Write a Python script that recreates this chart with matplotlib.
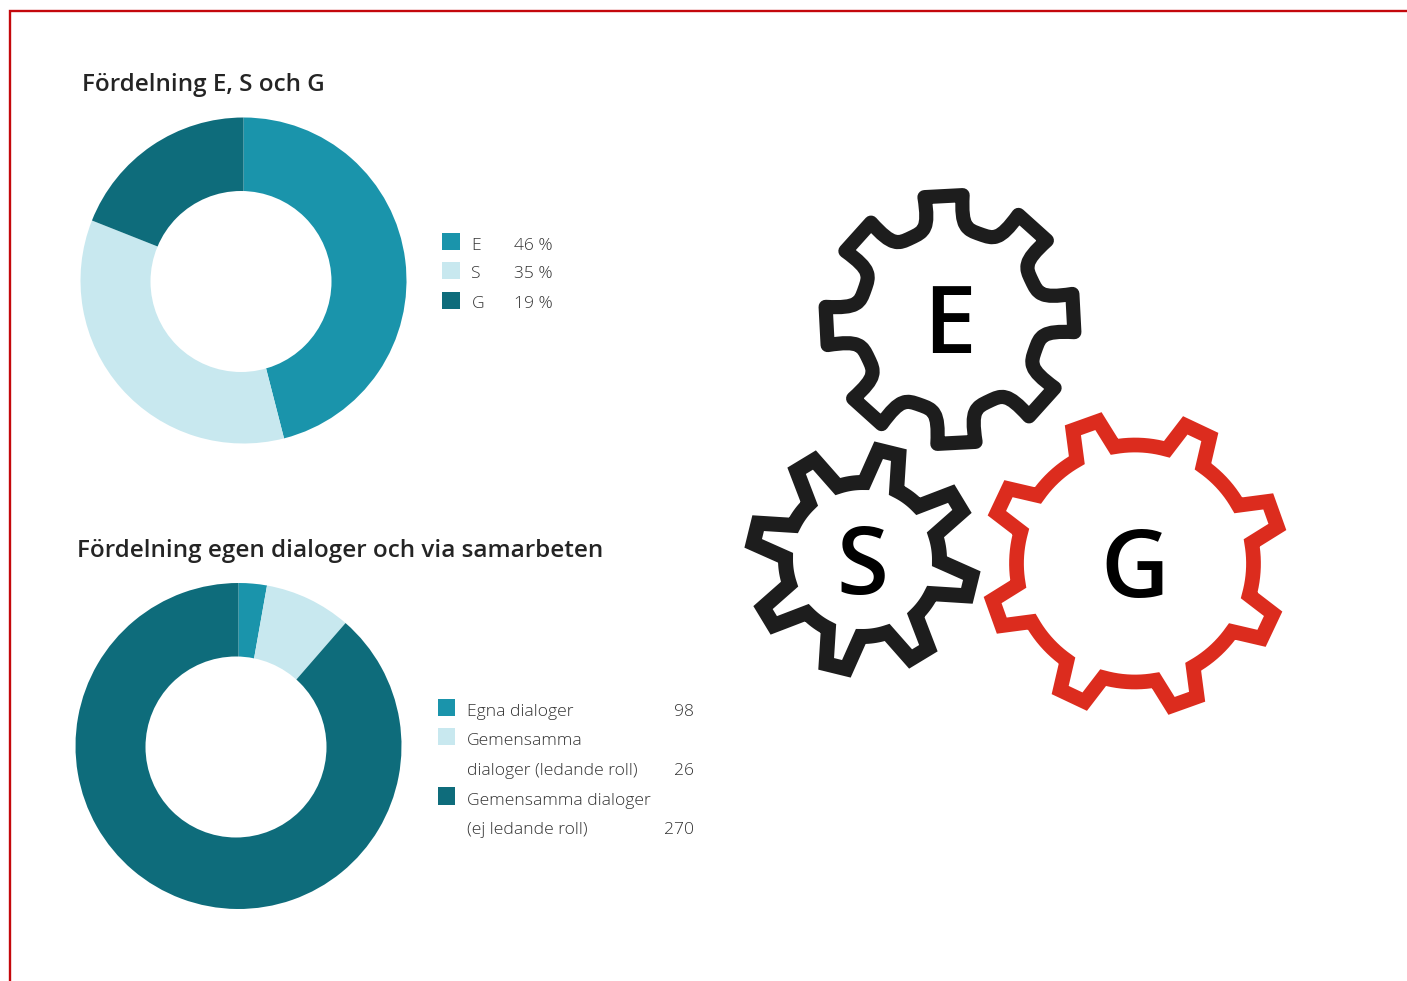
import numpy as np
import matplotlib
matplotlib.use("Agg")
from matplotlib import pyplot as plt
from matplotlib.path import Path
from matplotlib.patches import PathPatch, Circle, Rectangle

plt.rcParams['font.family'] = ['Open Sans', 'DejaVu Sans']

W, H = 1407, 981
TEAL = '#1A94AB'
LIGHT = '#C8E8EF'
DARK = '#0E6C7B'
RED = '#DC2C1E'
INK = '#1D1D1D'
TEXT = '#333333'

# chart 1
esg_labels = ['E', 'S', 'G']
esg_values = [46, 35, 19]
esg_texts = ['46 %', '35 %', '19 %']

# chart 2: slice sizes are read off the drawn donut, the legend numbers do not match them
dialog_shares = [2.8, 8.6, 88.6]
dialog_lines = ['Egna dialoger', 'Gemensamma', 'dialoger (ledande roll)',
                'Gemensamma dialoger', '(ej ledande roll)']
dialog_numbers = ['98', '', '26', '', '270']

colors = [TEAL, LIGHT, DARK]

fig = plt.figure(figsize=(W / 100, H / 100), dpi=100, facecolor='white')


def donut(values, cx, cy, hole_x, hole_y, hole_r, r=163):
    ax = fig.add_axes([(cx - r) / W, 1 - (cy + r) / H, 2 * r / W, 2 * r / H])
    ax.pie(values, colors=colors, startangle=90, counterclock=False, radius=1)
    ax.set_xlim(-1, 1)
    ax.set_ylim(-1, 1)
    # the hole sits a bit off centre in the original
    ax.add_patch(Circle(((hole_x - cx) / r, (cy - hole_y) / r), hole_r / r, color='white', lw=0))


donut(esg_values, 243.5, 280.5, 241, 281.5, 90.5)
donut(dialog_shares, 238.5, 746, 236, 747, 90.5)

ov = fig.add_axes([0, 0, 1, 1])
ov.set_xlim(0, W)
ov.set_ylim(H, 0)
ov.axis('off')

# frame
ov.plot([9.5, 9.5, W], [H, 10.5, 10.5], color='#C4080C', lw=1.7, solid_joinstyle='miter')

# titles
ov.text(82, 85, 'Fördelning E, S och G', fontsize=17.5, weight='semibold', color='#242424', va='center')
ov.text(77, 551, 'Fördelning egen dialoger och via samarbeten', fontsize=17.5, weight='semibold',
        color='#242424', va='center')

# legend 1
for i, (y, ty) in enumerate(zip([241.5, 270.5, 300.5], [245.5, 274.5, 304.5])):
    ov.add_patch(Rectangle((442, y - 9), 17.5, 17.5, color=colors[i], lw=0))
    ov.text(471.5, ty, esg_labels[i], fontsize=12.6, weight='light', color=TEXT, va='center')
    ov.text(514, ty, esg_texts[i], fontsize=12.6, weight='light', color=TEXT, va='center')

# legend 2
line_y = [712, 741, 771, 801, 830]
for txt, num, y in zip(dialog_lines, dialog_numbers, line_y):
    ov.text(467, y, txt, fontsize=12.6, weight='light', color=TEXT, va='center')
    ov.text(694, y, num, fontsize=12.6, weight='light', color=TEXT, va='center', ha='right')
for c, y in zip(colors, [707.5, 736.5, 796]):
    ov.add_patch(Rectangle((437.5, y - 9), 17.5, 17.5, color=c, lw=0))


def polar(cx, cy, r, deg):
    a = np.radians(deg)
    return (cx + r * np.sin(a), cy - r * np.cos(a))


def wavy_gear(cx, cy, R, rv, tip, rot, teeth=8):
    step = 360 / teeth
    d = 9
    rc = rv / np.cos(np.radians(d))
    verts, codes = [], []
    for k in range(teeth):
        a = rot + k * step
        mid = a + step / 2
        verts.append(polar(cx, cy, R, a - tip))
        codes.append(Path.MOVETO if k == 0 else Path.CURVE4)
        verts.append(polar(cx, cy, R, a + tip))
        codes.append(Path.LINETO)
        for r, ang in [(rv + 2, a + tip + 1), (rc, mid - d), (rv, mid),
                       (rc, mid + d), (rv + 2, a + step - tip - 1)]:
            verts.append(polar(cx, cy, r, ang))
            codes.append(Path.CURVE4)
    verts.append(polar(cx, cy, R, rot - tip))
    codes.append(Path.CURVE4)
    verts.append(polar(cx, cy, R, rot - tip))
    codes.append(Path.CLOSEPOLY)
    return Path(verts, codes)


def sharp_gear(cx, cy, R, r, tip, base, rot, teeth=8):
    step = 360 / teeth
    pts = []
    for k in range(teeth):
        a = rot + k * step
        pts.append(polar(cx, cy, R, a - tip))
        pts.append(polar(cx, cy, R, a + tip))
        for ang in np.linspace(a + base, a + step - base, 12):
            pts.append(polar(cx, cy, r, ang))
    pts.append(pts[0])
    return Path(pts, closed=True)


ov.add_patch(PathPatch(wavy_gear(950, 319.5, 125, 90.5, 8.8, -3), fc='none', ec=INK, lw=10.2,
                       joinstyle='round', capstyle='round'))
ov.add_patch(PathPatch(sharp_gear(862.5, 559.5, 110.5, 77, 5.4, 12.5, 13.8), fc='none', ec=INK, lw=10.8,
                       joinstyle='miter'))
ov.add_patch(PathPatch(sharp_gear(1135, 563.5, 147, 118.5, 5.3, 9.7, -19.7), fc='none', ec=RED, lw=10.6,
                       joinstyle='miter'))

# gear letters
ov.text(949, 317, 'E', fontsize=68, weight='semibold', color='black', ha='center', va='center_baseline')
ov.text(862, 558, 'S', fontsize=68, weight='semibold', color='black', ha='center', va='center_baseline')
ov.text(1135, 561, 'G', fontsize=68, weight='semibold', color='black', ha='center', va='center_baseline')

fig.savefig('out.png', dpi=100, facecolor='white')
